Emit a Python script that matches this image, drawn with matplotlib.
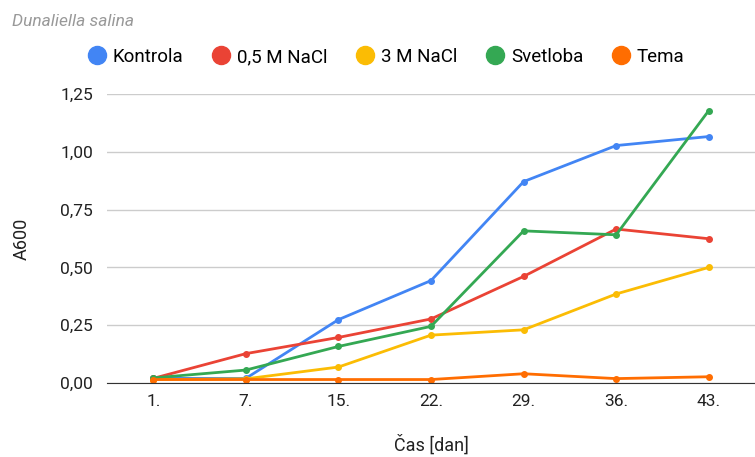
import matplotlib.pyplot as plt
from matplotlib.lines import Line2D
from matplotlib.ticker import FuncFormatter

plt.rcParams['font.family'] = ['Roboto', 'DejaVu Sans']

days = ["1.", "7.", "15.", "22.", "29.", "36.", "43."]

kontrola = [0.02, 0.02, 0.274, 0.443, 0.871, 1.027, 1.066]
nacl_05 = [0.02, 0.127, 0.197, 0.277, 0.461, 0.666, 0.624]
nacl_3 = [0.015, 0.018, 0.069, 0.207, 0.230, 0.385, 0.500]
svetloba = [0.022, 0.056, 0.158, 0.245, 0.658, 0.641, 1.178]
tema = [0.015, 0.015, 0.015, 0.015, 0.040, 0.019, 0.027]

series = [
    ("Kontrola", kontrola, "#4285F4"),
    ("0,5 M NaCl", nacl_05, "#EA4335"),
    ("3 M NaCl", nacl_3, "#FBBC04"),
    ("Svetloba", svetloba, "#34A853"),
    ("Tema", tema, "#FF6D01"),
]

fig = plt.figure(figsize=(7.55, 4.57), dpi=100)
ax = fig.add_axes([107 / 755, 1 - 383 / 457, 648 / 755, (383 - 94) / 457])

x = range(len(days))
handles = []
for name, vals, col in series:
    ax.plot(x, vals, color=col, lw=2, marker="o", ms=4, zorder=3)
    handles.append(Line2D([], [], color=col, marker="o", ls="none", ms=13, label=name))

ax.set_xlim(-0.5, len(days) - 0.5)
ax.set_ylim(0, 1.25)
ax.set_yticks([0, 0.25, 0.5, 0.75, 1.0, 1.25])
ax.yaxis.set_major_formatter(FuncFormatter(lambda v, p: f"{v:.2f}".replace(".", ",")))
ax.set_xticks(list(x))
ax.set_xticklabels(days)
ax.grid(axis="y", color="#cccccc", lw=1)
ax.set_axisbelow(True)
for s in ["left", "right", "top"]:
    ax.spines[s].set_visible(False)
ax.spines["bottom"].set_color("#333333")
ax.spines["bottom"].set_zorder(4)
ax.tick_params(length=0, labelsize=12.5, colors="#222222", pad=10)
ax.tick_params(axis="x", pad=8)

ax.set_xlabel("Čas [dan]", fontsize=13, color="#222222", labelpad=18)
ax.set_ylabel("A600", fontsize=13, color="#222222", labelpad=21)

fig.text(12 / 755, 1 - 22 / 457, "Dunaliella salina", fontsize=12.5, style="italic",
         color="#999999", va="center")

fig.legend(handles=handles, loc="center", bbox_to_anchor=(385 / 755, 1 - 57 / 457),
           ncol=5, frameon=False, fontsize=13.5, handletextpad=0.25, columnspacing=1.4,
           handlelength=1.2)

fig.savefig("out.png", dpi=100)
